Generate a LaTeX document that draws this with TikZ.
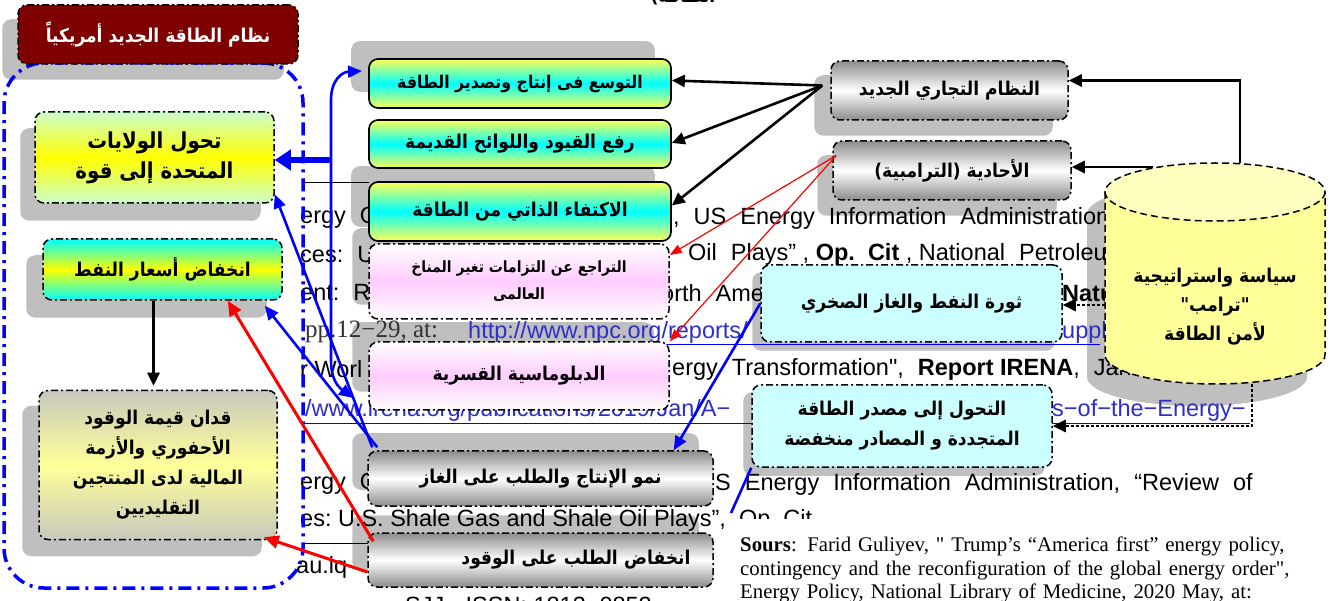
\documentclass[tikz,border=0pt]{standalone}
\usepackage{fontspec}
\usetikzlibrary{arrows.meta}
\newfontfamily\arfont[Script=Arabic, FakeStretch=0.9]{DejaVu Sans}
\newfontfamily\bgsans{Liberation Sans}
\newfontfamily\bgserif{Liberation Serif}
\TeXXeTstate=1
\newcommand\myRL[1]{\beginR #1\endR}
\newcommand\wgap{\hspace{14pt}}
\definecolor{shgray}{HTML}{BFBFBF}
\definecolor{darkred}{HTML}{7F0000}
\definecolor{lgreen}{HTML}{CCFFCC}
\definecolor{lyellow}{HTML}{FFFF99}
\definecolor{cyltop}{HTML}{FFFFC0}
\definecolor{pinkc}{HTML}{FFCCFF}
\definecolor{lcyan}{HTML}{CCFFFF}
\definecolor{metalgray}{HTML}{8C8C8C}
\definecolor{qgray}{HTML}{C8C8BE}
\definecolor{myyellow}{HTML}{FFFF55}
\definecolor{linkblue}{HTML}{2E2ECC}
\pgfdeclarelayer{bglayer}
\pgfdeclarelayer{shadowlayer}
\pgfsetlayers{bglayer,shadowlayer,main}
\newcommand\shadowof[3]{\fill[shd] ([shift={(#2,#3)}]#1.north west) rectangle ([shift={(#2,#3)}]#1.south east);}
\tikzset{
  box/.style={rectangle, rounded corners=9pt, inner sep=2pt, align=center,
    font=\arfont\bfseries\fontsize{19}{30}\selectfont},
  ddot/.style={draw=black, line width=1.5pt, dash pattern=on 7pt off 3pt on 2pt off 3pt},
  solidb/.style={draw=black, line width=1.7pt},
  gyc/.style={top color=lgreen, bottom color=lgreen, middle color=yellow},
  cyy/.style={top color=cyan, bottom color=cyan, middle color=yellow},
  qshade/.style={top color=qgray, bottom color=qgray, middle color=lyellow},
  ycy/.style={top color=myyellow, bottom color=myyellow, middle color=cyan},
  wpw/.style={top color=white, bottom color=white, middle color=pinkc},
  metalsh/.style={top color=metalgray, bottom color=metalgray, middle color=white},
  shd/.style={fill=shgray, rounded corners=9pt},
  container/.style={draw=blue, line width=3.5pt, dash pattern=on 13pt off 6pt on 3pt off 6pt,
    rounded corners=40pt, minimum width=299pt, minimum height=525pt, inner sep=0pt},
  bgt/.style={anchor=west, inner sep=0pt, font=\bgsans\fontsize{23.5}{26}\selectfont, text=black},
  blk/.style={draw=black, line width=2.6pt, -{Triangle[length=13pt,width=12pt]}},
  dotarr/.style={draw=black, line width=2.6pt, dash pattern=on 2.6pt off 2.4pt, -{Triangle[length=13pt,width=12pt]}},
  redthin/.style={draw=red, line width=1.2pt, -{Triangle[length=12pt,width=9pt]}},
  redarr/.style={draw=red, line width=3pt, -{Triangle[length=15pt,width=13pt]}},
  bluel/.style={draw=blue, line width=2.6pt},
  bluearr/.style={bluel, -{Triangle[length=14pt,width=12pt]}},
  bluethick/.style={draw=blue, line width=6pt, -{Triangle[length=16pt,width=20pt]}},
  cylbody/.style={fill=lyellow},
  cyldash/.style={draw=black, line width=1.5pt, dash pattern=on 7pt off 4pt},
}
\begin{document}
\begin{tikzpicture}[x=1pt,y=-1pt]
\useasboundingbox (0,0) rectangle (1331,601);
\begin{pgfonlayer}{bglayer}
\fill[white] (0,0) rectangle (1331,601);
\end{pgfonlayer}

% ---------- background page text ----------
\node[font=\arfont\bfseries\fontsize{19}{20}\selectfont, inner sep=0pt] (t0) at (683,-3) {\myRL{الطاقة)}};
\node[bgt] (t1a) at (300,218) {ergy\wgap O};
\node[bgt] (t1b) at (673,218) {,\wgap US\wgap Energy\wgap Information\wgap Administration};
\node[bgt] (t2a) at (300,255) {ces:\wgap U};
\node[bgt] (t2b) at (688,255) {Oil\wgap Plays”\ ,\ \textbf{\underline{Op.\ \ Cit}}\ ,\ National\wgap Petroleum};
\node[bgt] (t3a) at (300,293) {ent:\wgap R};
\node[bgt] (t3b) at (661,293) {orth\wgap America};
\node[bgt] (t3c) at (1062,293) {\textbf{Natural}};
\node[bgt, font=\bgserif\fontsize{25}{26}\selectfont, text=black!80] (t4a) at (305,332) {pp.12−29,\ at:};
\node[bgt, text=linkblue] (t4b) at (468,332) {http://www.npc.org/reports/};
\node[bgt] (t4c) at (1062,332) {\textcolor{linkblue}{uppl}};
\node[bgt] (t5a) at (300,369) {r\ Worl};
\node[bgt] (t5b) at (672,369) {ergy\wgap Transformation",\wgap \textbf{Report\ IRENA},\wgap Jan};
\node[bgt, text=linkblue] (t6a) at (305,410) {/www.irena.org/publications/2019/Jan/A−};
\node[bgt, text=linkblue] (t6b) at (1052,410) {s−of−the−Energy−};
\node[bgt] (t7a) at (300,484) {ergy\wgap O};
\node[bgt] (t7b) at (715,484) {S\wgap Energy\wgap Information\wgap Administration,\wgap “Review\wgap of};
\node[bgt] (t8) at (300,520) {es:\ U.S.\ Shale\ Gas\ and\ Shale\ Oil\ Plays”,\ \ Op.\ Cit};
\node[bgt] (t9) at (296,567) {au.iq};
\node[bgt] (t10) at (405,605) {SJJ\ •\ ISSN:\ 1813−0852};
\draw[line width=1pt] (303,183) -- (369,183);
\draw[line width=1pt] (303,543) -- (369,543);
\draw[blue, line width=1pt] (305,424) -- (1250,424);
\draw[blue, line width=1pt] (468,345) -- (1100,345);

% ---------- container and boxes ----------
\node[container] (frame) at (153.5,325.5) {};
\node[box, ddot, fill=darkred, text=white, minimum width=280pt, minimum height=59pt] (title) at (158,34.5) {\myRL{نظام الطاقة الجديد أمريكياً}};

\node[box, ddot, gyc, minimum width=239pt, minimum height=91pt, font=\arfont\bfseries\fontsize{22}{30}\selectfont] (tah) at (154.5,157.5) {\myRL{تحول الولايات}\\\myRL{المتحدة إلى قوة}};
\node[box, ddot, cyy, minimum width=239pt, minimum height=61pt] (oil) at (162.5,269.5) {\myRL{انخفاض أسعار النفط}};
\node[box, ddot, qshade, minimum width=238pt, minimum height=149pt] (qad) at (158,465) {\myRL{قدان قيمة الوقود}\\\myRL{الأحفوري والأزمة}\\\myRL{المالية لدى المنتجين}\\\myRL{التقليديين}};

\node[box, solidb, ycy, minimum width=302pt, minimum height=49pt, font=\arfont\bfseries\fontsize{17.5}{30}\selectfont] (m1) at (520,83.5) {\myRL{التوسع فى إنتاج وتصدير الطاقة}};
\node[box, solidb, ycy, minimum width=302pt, minimum height=48pt] (m2) at (520,144) {\myRL{رفع القيود واللوائح القديمة}};
\node[box, solidb, ycy, minimum width=302pt, minimum height=59pt] (m3) at (520,211.5) {\myRL{الاكتفاء الذاتي من الطاقة}};
\node[box, ddot, wpw, minimum width=300pt, minimum height=75pt, font=\arfont\bfseries\fontsize{15.5}{27}\selectfont] (p1) at (519,281.5) {\myRL{التراجع عن التزامات تغير المناخ}\\\myRL{العالمى}};
\node[box, ddot, wpw, minimum width=300pt, minimum height=68pt] (p2) at (519,376) {\myRL{الدبلوماسية القسرية}};
\node[box, ddot, metalsh, minimum width=345pt, minimum height=55pt] (gas) at (540.5,478.5) {\myRL{نمو الإنتاج والطلب على الغاز}};
\node[box, ddot, metalsh, minimum width=345pt, minimum height=54pt, text width=300pt, align=right] (fuel) at (540.5,560) {\myRL{انخفاض الطلب على الوقود}};

\node[box, ddot, metalsh, minimum width=237pt, minimum height=59pt] (n1) at (949.5,90.5) {\myRL{النظام التجاري الجديد}};
\node[box, ddot, metalsh, minimum width=238pt, minimum height=59pt] (n2) at (952,170.5) {\myRL{الأحادية (الترامبية)}};
\node[box, ddot, fill=lcyan, minimum width=301pt, minimum height=77pt] (thw) at (911.5,303.5) {\myRL{ثورة النفط والغاز الصخري}};
\node[box, ddot, fill=lcyan, minimum width=300pt, minimum height=82pt] (ren) at (902,426) {\myRL{التحول إلى مصدر الطاقة}\\\myRL{المتجددة و المصادر منخفضة}};

% ---------- cylinder ----------
\begin{pgfonlayer}{shadowlayer}
\begin{scope}[shift={(-18,22)}]
\fill[shgray] (1105,192) -- (1105,355) .. controls (1105,371) and (1154.25,384) .. (1215,384) .. controls (1275.75,384) and (1325,371) .. (1325,355) -- (1325,192) -- cycle;
\fill[shgray] (1215,192) ellipse (110 and 29);
\end{scope}
\shadowof{title}{-15}{15}
\shadowof{tah}{-14}{17}
\shadowof{oil}{-16}{17}
\shadowof{qad}{-16}{16}
\shadowof{m1}{-17}{-17}
\shadowof{m3}{-17}{-15}
\shadowof{p1}{-16}{-15}
\shadowof{p2}{-16}{-19}
\shadowof{gas}{-15}{-17}
\shadowof{fuel}{-15}{-17}
\shadowof{n1}{-16}{15}
\shadowof{n2}{-15}{15}
\shadowof{thw}{-8}{8}
\shadowof{ren}{-8}{8}
\end{pgfonlayer}
\path[cylbody] (1105,192) -- (1105,355) .. controls (1105,371) and (1154.25,384) .. (1215,384) .. controls (1275.75,384) and (1325,371) .. (1325,355) -- (1325,192) -- cycle;
\draw[cyldash] (1105,192) -- (1105,355) .. controls (1105,371) and (1154.25,384) .. (1215,384) .. controls (1275.75,384) and (1325,371) .. (1325,355) -- (1325,192);
\draw[cyldash, fill=cyltop] (1215,192) ellipse (110 and 29);
\node[font=\arfont\bfseries\fontsize{19}{29}\selectfont, align=center, inner sep=0pt] (cyl) at (1215,307) {\myRL{سياسة واستراتيجية}\\\myRL{"ترامب"}\\\myRL{لأمن الطاقة}};
\coordinate (ctop) at (1240,163);
\coordinate (cn2) at (1153,167);
\coordinate (cleft) at (1105,305);
\coordinate (cbot) at (1252,384);

% ---------- connectors ----------
\draw[blk] (ctop) |- ([yshift=10pt]n1.east);
\draw[blk] (cn2) -- (cn2 -| n2.east);
\draw[dotarr] (cleft) -- (cleft -| thw.east);
\draw[dotarr] (cbot) |- (ren.east);

\coordinate (n1s) at ([shift={(-8,-5)}]n1.west);
\draw[blk] (n1s) -- ([yshift=3pt]m1.east);
\draw[blk] (n1s) -- ([yshift=1pt]m2.east);
\draw[blk] (n1s) -- ([yshift=6pt]m3.east);

\coordinate (n2s) at ([shift={(4,-15)}]n2.west);
\draw[redthin] (n2s) -- (p1.10);
\draw[redthin] (n2s) -- (p2.north east);

\coordinate (btop) at (362,71);
\coordinate (bbot) at (353,398);
\coordinate (bj) at (331,160);
\draw[bluel, {Triangle[length=14pt,width=12pt]}-{Triangle[length=14pt,width=12pt]}] (bbot) .. controls (337,386) and (331,378) .. (331,360) -- (331,100) .. controls (331,80) and (342,72) .. (btop);
\draw[bluethick] (bj) -- (tah.east |- bj);
\draw[bluearr] ([shift={(5,-3)}]gas.north west) -- (tah.-17);
\draw[bluearr] ([shift={(10,-3)}]gas.north west) -- ([shift={(-18,5)}]oil.south east);
\draw[bluearr] (thw.west) -- ([xshift=-40pt]gas.north east);
\coordinate (renend) at (731,513);
\draw[bluel] (ren.south west) -- (renend);

\draw[redarr] ([shift={(6,9)}]fuel.north west) -- ([xshift=-55pt]oil.south east);
\draw[redarr] ([yshift=-12pt]fuel.west) -- ([shift={(-14,-3)}]qad.south east);
\draw[blk] ([xshift=-9pt]oil.south) -- ([xshift=-9pt,yshift=4pt]oil.south |- qad.north);

% ---------- source note ----------
\fill[white] (733,519) rectangle (1331,601);
\node[anchor=north west, inner sep=0pt, text width=590pt, align=left,
  font=\bgserif\fontsize{20.8}{23.3}\selectfont] (src) at (740,537)
  {\textbf{Sours}: Farid Guliyev, " Trump’s “America first” energy policy,\\
   contingency and the reconfiguration of the global energy order",\\
   Energy Policy, National Library of Medicine, 2020 May, at:};
\end{tikzpicture}
\end{document}
